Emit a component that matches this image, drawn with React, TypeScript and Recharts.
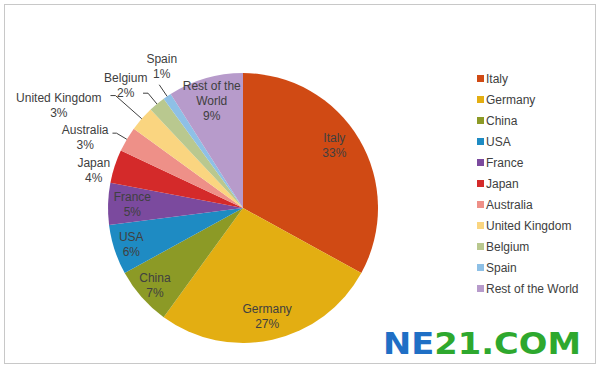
import React from 'react';
import { PieChart, Pie, Cell, Legend } from 'recharts';

// country shares (%)
const countries = ['Italy', 'Germany', 'China', 'USA', 'France', 'Japan', 'Australia', 'United Kingdom', 'Belgium', 'Spain', 'Rest of the World'];
const shares = [33, 27, 7, 6, 5, 4, 3, 3, 2, 1, 9];
const labelLines = [['Italy'], ['Germany'], ['China'], ['USA'], ['France'], ['Japan'], ['Australia'], ['United Kingdom'], ['Belgium'], ['Spain'], ['Rest of the', 'World']];

const COLORS = ['#D04A14', '#E3AE12', '#8C9A26', '#1E8BC3', '#7B4A9E', '#D42A2A', '#EE9088', '#FAD580', '#B9C88F', '#8EC0E6', '#B79BCB'];

const data = countries.map((name, i) => ({ name, value: shares[i] }));

const RADIAN = Math.PI / 180;
const polar = (cx: number, cy: number, r: number, angle: number) => ({
  x: cx + r * Math.cos(-angle * RADIAN),
  y: cy + r * Math.sin(-angle * RADIAN),
});

// label placement: inside slices use a radius factor, outside ones an angle shift + radius + leader
const LABEL_STYLE: any[] = [
  { f: 0.82, shift: 3.8 }, { f: 0.82 }, { f: 0.87 }, { f: 0.87 }, { f: 0.82 },
  { out: true, shift: 3.7, r: 154 },
  { out: true, shift: 6.4, r: 173, elbow: 147, h: 4 },
  { out: true, shift: 12.2, r: 211, elbow: 170, h: 5 },
  { out: true, shift: 4, r: 170, elbow: 149, h: 5 },
  { out: true, shift: -4.3, r: 163, elbow: 149, h: 0 },
  { f: 0.83 },
];

const renderLabel = (props: any) => {
  const { cx, cy, midAngle, outerRadius, index, percent } = props;
  const st = LABEL_STYLE[index];
  const lines = [...labelLines[index], `${Math.round(percent * 100)}%`];
  let p;
  if (st.out) p = polar(cx, cy, st.r, midAngle + st.shift);
  else p = polar(cx, cy, outerRadius * st.f, midAngle + (st.shift || 0));
  const lh = 15;
  const y0 = p.y - ((lines.length - 1) * lh) / 2;
  let leader = null;
  if (st.out && st.elbow) {
    const a = polar(cx, cy, outerRadius, midAngle);
    const b = polar(cx, cy, st.elbow, midAngle);
    leader = (
      <polyline
        points={`${a.x},${a.y} ${b.x},${b.y} ${b.x - st.h},${b.y}`}
        fill="none"
        stroke="#404040"
        strokeWidth={1}
      />
    );
  }
  return (
    <g>
      {leader}
      <text x={p.x} y={y0} textAnchor="middle" fontSize={12} fill="#404040" fontFamily="Liberation Sans, Arial, sans-serif">
        {lines.map((l, i) => (
          <tspan key={i} x={p.x} y={y0 + i * lh} dy="0.35em">{l}</tspan>
        ))}
      </text>
    </g>
  );
};

const renderLegend = () => (
  <div style={{ fontFamily: 'Liberation Sans, Arial, sans-serif', fontSize: 12, color: '#404040' }}>
    {countries.map((name, i) => (
      <div key={name} style={{ display: 'flex', alignItems: 'center', height: 21 }}>
        <span style={{ display: 'inline-block', width: 7, height: 7, background: COLORS[i], marginRight: 2 }} />
        <span>{name}</span>
      </div>
    ))}
  </div>
);

export default function App() {
  return (
    <div style={{ position: 'absolute', left: 0, top: 0, width: 600, height: 373, background: '#fff' }}>
      <div style={{ position: 'absolute', left: 4, top: 4, width: 590, height: 358, border: '1px solid #c8c8c8' }} />
      <PieChart width={600} height={373} margin={{ top: 0, right: 0, bottom: 0, left: 0 }}>
        <Pie
          data={data}
          dataKey="value"
          nameKey="name"
          cx={243}
          cy={208}
          outerRadius={135}
          startAngle={90}
          endAngle={-270}
          stroke="none"
          labelLine={false}
          label={renderLabel}
          isAnimationActive={false}
        >
          {data.map((entry, index) => (
            <Cell key={`cell-${index}`} fill={COLORS[index]} />
          ))}
        </Pie>
        <Legend content={renderLegend} wrapperStyle={{ left: 477, top: 68, width: 120, right: 'auto', bottom: 'auto' }} />
      </PieChart>
      <svg width={600} height={373} style={{ position: 'absolute', left: 0, top: 0, pointerEvents: 'none' }}>
        <text x={383} y={354} fontSize={30} fontWeight="bold" fontFamily="DejaVu Sans, sans-serif" textLength={198} lengthAdjust="spacingAndGlyphs">
          <tspan fill="#1F6FC5">NE</tspan>
          <tspan fill="#2EA82E">21.COM</tspan>
        </text>
      </svg>
    </div>
  );
}
